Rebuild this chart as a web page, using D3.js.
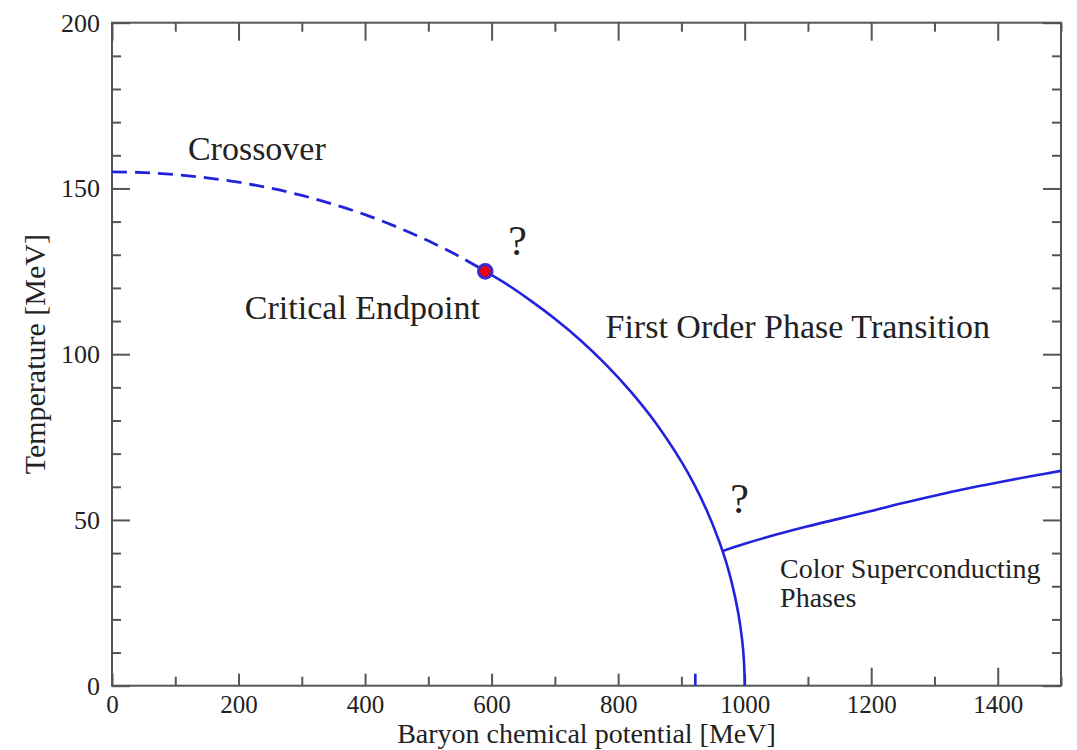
<!DOCTYPE html>
<html>
<head>
<meta charset="utf-8">
<script src="https://cdn.jsdelivr.net/npm/d3@7"></script>
<style>
  html, body { margin: 0; padding: 0; background: #fff; }
  svg { display: block; font-family: "Liberation Serif", "Times New Roman", serif; }
</style>
</head>
<body>
<svg id="chart" width="1077" height="750"></svg>
<script>
// QCD phase diagram: temperature vs baryon chemical potential (MeV)
const xMajorTicks = [0, 200, 400, 600, 800, 1000, 1200, 1400];
const yMajorTicks = [0, 50, 100, 150, 200];

// crossover line (dashed), from mu = 0 to the critical endpoint
const crossover = [
  [0, 155], [50, 154.8], [100, 154.2], [150, 153.2], [200, 151.9], [250, 150.1],
  [300, 147.9], [350, 145.2], [400, 142.1], [450, 138.4], [500, 134.2],
  [550, 129.4], [590, 125]
];
// first order transition line (solid), endpoint down to T = 0
const firstOrder = [
  [590, 125], [620, 121.6], [660, 116.4], [700, 110.7], [740, 104.3],
  [780, 97], [820, 88.7], [860, 79.1], [900, 67.6], [920, 60.8],
  [940, 52.9], [960, 43.4], [970, 37.7], [980, 30.8], [990, 21.8],
  [996, 13.8], [999, 7], [1000, 0]
];
// boundary of the colour superconducting phases
const superconducting = [
  [965, 40.6], [1000, 42.8], [1050, 45.6], [1100, 48.1], [1150, 50.4],
  [1200, 52.7], [1250, 55.1], [1300, 57.3], [1350, 59.4], [1400, 61.3],
  [1450, 63.1], [1500, 64.8]
];
// nuclear liquid-gas marker near the mu axis
const nuclearMark = [[922, 0], [922, 3.6]];
const endpoint = [590, 125];

const labels = [
  { text: "Crossover", mu: 120, T: 158.5, size: 34 },
  { text: "Critical Endpoint", mu: 210, T: 110.5, size: 34 },
  { text: "First Order Phase Transition", mu: 780, T: 105, size: 34 },
  { text: "?", mu: 641, T: 130, size: 42, anchor: "middle" },
  { text: "?", mu: 992, T: 52, size: 42, anchor: "middle" },
  { text: "Color Superconducting", mu: 1056, T: 32.4, size: 28 },
  { text: "Phases", mu: 1056, T: 23.8, size: 28 }
];

const svg = d3.select("#chart");
const x = d3.scaleLinear().domain([0, 1500]).range([112, 1061]);
const y = d3.scaleLinear().domain([0, 200]).range([685.7, 22.7]);

const axisColor = "#555";
const textColor = "#222";
const lineColor = "#2222dd";

const minorX = d3.range(0, 1501, 100).filter(v => v % 200 !== 0);
const minorY = d3.range(0, 201, 10).filter(v => v % 50 !== 0);

function styleAxis(g) {
  g.select(".domain").remove();
  g.selectAll(".tick line").attr("stroke", axisColor).attr("stroke-width", 2);
  g.selectAll(".tick text").attr("fill", textColor).attr("font-size", 25)
    .attr("font-family", "Liberation Serif, Times New Roman, serif");
}

// bottom axis
const gB = svg.append("g").attr("transform", `translate(0,${y(0)})`)
  .call(d3.axisBottom(x).tickValues(xMajorTicks).tickSize(-18).tickFormat(d3.format("d")));
styleAxis(gB);
gB.selectAll(".tick line").attr("y2", d => d <= 1000 ? -12 : -18);
gB.selectAll(".tick text").attr("y", 27).attr("dy", null);
svg.append("g").attr("transform", `translate(0,${y(0)})`)
  .call(d3.axisBottom(x).tickValues(minorX).tickSize(-9).tickFormat(""))
  .call(styleAxis);

// top axis
svg.append("g").attr("transform", `translate(0,${y(200)})`)
  .call(d3.axisTop(x).tickValues(xMajorTicks).tickSize(-18).tickFormat(""))
  .call(styleAxis);
svg.append("g").attr("transform", `translate(0,${y(200)})`)
  .call(d3.axisTop(x).tickValues(minorX).tickSize(-9).tickFormat(""))
  .call(styleAxis);

// left axis
const gL = svg.append("g").attr("transform", `translate(${x(0)},0)`)
  .call(d3.axisLeft(y).tickValues(yMajorTicks).tickSize(-18).tickPadding(12).tickFormat(d3.format("d")));
styleAxis(gL);
gL.selectAll(".tick text").attr("font-size", 26);
svg.append("g").attr("transform", `translate(${x(0)},0)`)
  .call(d3.axisLeft(y).tickValues(minorY).tickSize(-9).tickFormat(""))
  .call(styleAxis);

// right axis
svg.append("g").attr("transform", `translate(${x(1500)},0)`)
  .call(d3.axisRight(y).tickValues(yMajorTicks).tickSize(-18).tickFormat(""))
  .call(styleAxis);
svg.append("g").attr("transform", `translate(${x(1500)},0)`)
  .call(d3.axisRight(y).tickValues(minorY).tickSize(-9).tickFormat(""))
  .call(styleAxis);

// frame
svg.append("rect")
  .attr("x", x(0)).attr("y", y(200))
  .attr("width", x(1500) - x(0)).attr("height", y(0) - y(200))
  .attr("fill", "none").attr("stroke", axisColor).attr("stroke-width", 2);

// curves
const lineSmooth = d3.line().x(d => x(d[0])).y(d => y(d[1])).curve(d3.curveCatmullRom.alpha(0.5));
const lineStraight = d3.line().x(d => x(d[0])).y(d => y(d[1]));

svg.append("path").datum(crossover).attr("d", lineSmooth)
  .attr("fill", "none").attr("stroke", lineColor).attr("stroke-width", 2.8)
  .attr("stroke-dasharray", "15,8");
svg.append("path").datum(firstOrder).attr("d", lineSmooth)
  .attr("fill", "none").attr("stroke", lineColor).attr("stroke-width", 2.6);
svg.append("path").datum(superconducting).attr("d", lineSmooth)
  .attr("fill", "none").attr("stroke", lineColor).attr("stroke-width", 2.6);
svg.append("path").datum(nuclearMark).attr("d", lineStraight)
  .attr("fill", "none").attr("stroke", lineColor).attr("stroke-width", 2.6);

// critical endpoint
svg.append("circle")
  .attr("cx", x(endpoint[0])).attr("cy", y(endpoint[1])).attr("r", 6.8)
  .attr("fill", "#f00010").attr("stroke", "#3a2ad0").attr("stroke-width", 3);

// annotations
svg.append("g").selectAll("text").data(labels).join("text")
  .attr("x", d => x(d.mu)).attr("y", d => y(d.T))
  .attr("text-anchor", d => d.anchor || "start")
  .attr("font-size", d => d.size)
  .attr("fill", textColor)
  .text(d => d.text);

// axis titles
svg.append("text")
  .attr("x", (x(0) + x(1500)) / 2).attr("y", 743)
  .attr("text-anchor", "middle").attr("font-size", 28).attr("fill", textColor)
  .text("Baryon chemical potential [MeV]");
svg.append("text")
  .attr("transform", `translate(45,${(y(0) + y(200)) / 2}) rotate(-90)`)
  .attr("text-anchor", "middle").attr("font-size", 30).attr("fill", textColor)
  .text("Temperature [MeV]");
</script>
</body>
</html>
